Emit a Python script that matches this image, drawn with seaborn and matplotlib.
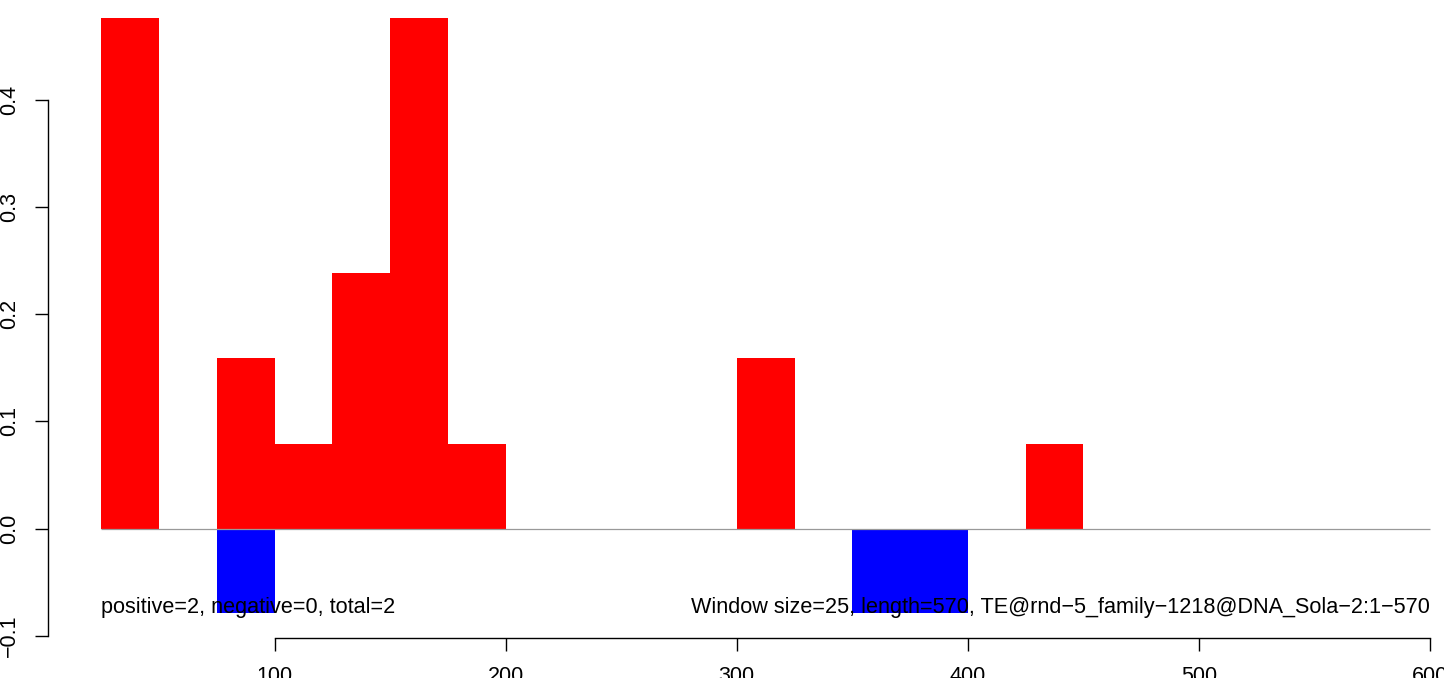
import numpy as np
import pandas as pd
import seaborn as sns
import matplotlib.pyplot as plt

sns.set_theme(context='notebook', style='ticks')
plt.rcParams['font.family'] = ['Liberation Sans', 'DejaVu Sans']

# window starts (size 25) and signed scores
window_size = 25
pos_start = [25, 75, 100, 125, 150, 175, 300, 425]
pos_value = [0.476, 0.159, 0.079, 0.238, 0.476, 0.079, 0.159, 0.079]
neg_start = [75, 350, 375]
neg_value = [-0.079, -0.079, -0.079]
x_start, x_end = 25, 600
left_label = 'positive=2, negative=0, total=2'
right_label = 'Window size=25, length=570, TE@rnd\u22125_family\u22121218@DNA_Sola\u22122:1\u2212570'
x_ticks = [100, 200, 300, 400, 500, 600]
y_ticks = [-0.1, 0.0, 0.1, 0.2, 0.3, 0.4]

df = pd.concat([
    pd.DataFrame({'start': pos_start, 'value': pos_value, 'sign': 'pos'}),
    pd.DataFrame({'start': neg_start, 'value': neg_value, 'sign': 'neg'}),
])
df['mid'] = df['start'] + window_size / 2

W, H = 1444, 678
fig = plt.figure(figsize=(W / 100, H / 100), dpi=100)
# R-like plot region (partly outside the saved image)
l, r, b, t = 48.3, 1483, 637.7, -5
ax = fig.add_axes([l / W, (H - b) / H, (r - l) / W, (b - t) / H])

for sign, col in [('pos', '#FF0000'), ('neg', '#0000FF')]:
    sns.histplot(data=df[df['sign'] == sign], x='mid', weights='value',
                 binwidth=window_size, binrange=(x_start, x_end),
                 color=col, alpha=1, linewidth=0, ax=ax)
ax.hlines(0, x_start, x_end, color='#999999', linewidth=0.9, zorder=3)

ax.set_xlim(2, 623)
ax.set_ylim(-0.1016, 0.4976)
ax.set_xlabel('')
ax.set_ylabel('')
ax.set_xticks(x_ticks)
ax.set_yticks(y_ticks)
ax.set_yticklabels([f'{v:.1f}'.replace('-', '\u2212') for v in y_ticks],
                   rotation=90, va='center')
for s in ['top', 'right']:
    ax.spines[s].set_visible(False)
ax.spines['left'].set_bounds(-0.1, 0.4)
ax.spines['bottom'].set_bounds(100, 600)
for s in ['left', 'bottom']:
    ax.spines[s].set_linewidth(1.0)
    ax.spines[s].set_color('black')
ax.tick_params(axis='both', length=9.5, width=1.0, color='black',
               labelsize=15.5, pad=11, labelcolor='black')
ax.set_facecolor('white')

ax.text(x_start, -0.0734, left_label, ha='left', va='center',
        fontsize=15.6, color='black')
ax.text(x_end, -0.0734, right_label, ha='right', va='center',
        fontsize=15.6, color='black')

fig.savefig('out.png', dpi=100, facecolor='white')
